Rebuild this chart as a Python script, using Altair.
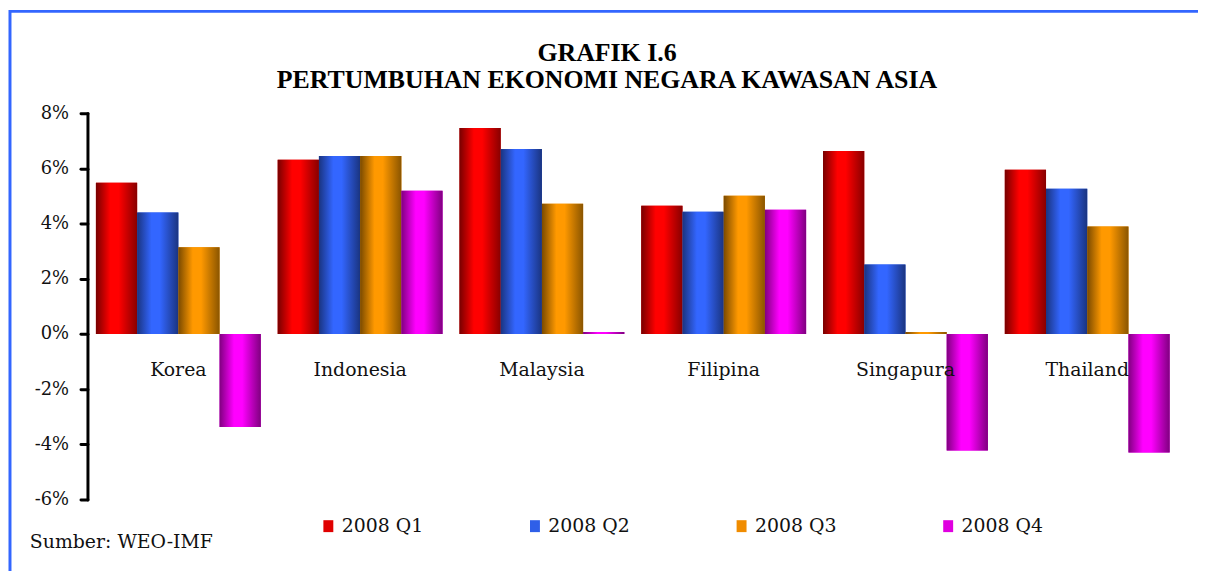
import altair as alt
import pandas as pd

negara = ["Korea", "Indonesia", "Malaysia", "Filipina", "Singapura", "Thailand"]
kuartal = ["2008 Q1", "2008 Q2", "2008 Q3", "2008 Q4"]
q1 = [5.48, 6.31, 7.46, 4.65, 6.63, 5.95]
q2 = [4.40, 6.45, 6.70, 4.43, 2.52, 5.26]
q3 = [3.14, 6.45, 4.72, 5.01, 0.07, 3.89]
q4 = [-3.37, 5.19, 0.07, 4.50, -4.22, -4.29]
y_ticks = [-6, -4, -2, 0, 2, 4, 6, 8]

judul = "GRAFIK I.6\nPERTUMBUHAN EKONOMI NEGARA KAWASAN ASIA"
sumber = "Sumber: WEO-IMF"

rows = []
for q, vals in zip(kuartal, [q1, q2, q3, q4]):
    for n, v in zip(negara, vals):
        rows.append({"negara": n, "kuartal": q, "nilai": v})
df = pd.DataFrame(rows)
df_neg = pd.DataFrame({"negara": negara})

solid = ["#e00000", "#2f5fe8", "#f08c00", "#e000e0"]
grad_cols = [
    ("#780000", "#ff0000", "#880000"),
    ("#1a3480", "#3366ff", "#1a3480"),
    ("#7a4a00", "#ff9900", "#8a5500"),
    ("#800080", "#ff00ff", "#800080"),
]

SERIF = "DejaVu Serif"

x_enc = alt.X("negara:N", sort=negara,
              scale=alt.Scale(paddingInner=0.093, paddingOuter=0.0465), axis=None)
xo_enc = alt.XOffset("kuartal:N", sort=kuartal,
                     scale=alt.Scale(domain=kuartal, paddingInner=0, paddingOuter=0))
y_enc = alt.Y("nilai:Q", scale=alt.Scale(domain=[-6, 8], nice=False, zero=False),
              axis=alt.Axis(values=y_ticks, labelExpr="datum.value + '%'", title=None,
                            grid=False, domainColor="black", domainWidth=3,
                            domainCap="round", tickColor="black", tickWidth=3,
                            tickSize=7, tickCap="round", labelFont=SERIF, labelFontSize=18,
                            labelColor="#111", labelPadding=12))

base = alt.Chart(df).mark_bar().encode(
    x=x_enc, xOffset=xo_enc, y=y_enc,
    color=alt.Color("kuartal:N", sort=kuartal,
                    scale=alt.Scale(domain=kuartal, range=solid),
                    legend=alt.Legend(title=None, orient="none", direction="horizontal",
                                      columns=4, legendX=233, legendY=406,
                                      symbolType="M-1,-1.2H1V1.2H-1Z",
                                      symbolSize=100, symbolStrokeWidth=0,
                                      labelFont=SERIF, labelFontSize=19, labelColor="#111",
                                      labelOffset=4, columnPadding=102, padding=0,
                                      labelLimit=200)),
)

layers = [base]
for q, (c0, c1, c2) in zip(kuartal, grad_cols):
    g = alt.LinearGradient(gradient="linear", x1=0, x2=1, y1=0, y2=0,
                           stops=[alt.GradientStop(offset=0, color=c0),
                                  alt.GradientStop(offset=0.35, color=c1),
                                  alt.GradientStop(offset=0.55, color=c1),
                                  alt.GradientStop(offset=1, color=c2)])
    layers.append(
        alt.Chart(df).transform_filter(alt.datum.kuartal == q)
        .mark_bar(color=g, strokeWidth=0)
        .encode(x=x_enc, xOffset=xo_enc, y=y_enc)
    )

labels = alt.Chart(df_neg).mark_text(font=SERIF, fontSize=19, color="#111",
                                     baseline="middle", dy=36).encode(
    x=x_enc, y=alt.datum(0), text="negara:N")
layers.append(labels)

src = alt.Chart(pd.DataFrame({"t": [sumber]})).mark_text(
    font=SERIF, fontSize=19, color="#111", align="left", baseline="middle").encode(
    x=alt.value(-58), y=alt.value(432), text="t:N")
layers.append(src)

title = alt.Chart(pd.DataFrame({"t": [judul]})).mark_text(
    font="Liberation Serif", fontSize=26, fontWeight="bold", color="black",
    align="center", baseline="middle", lineBreak="\n", lineHeight=28).encode(
    x=alt.value(523), y=alt.value(-61), text="t:N")
layers.append(title)

frame_top = alt.Chart(pd.DataFrame({"a": [0]})).mark_rule(color="#3366ff", strokeWidth=3).encode(
    x=alt.value(-78), x2=alt.value(1130), y=alt.value(-102.5))
frame_left = alt.Chart(pd.DataFrame({"a": [0]})).mark_rule(color="#3366ff", strokeWidth=3).encode(
    x=alt.value(-78), y=alt.value(-104), y2=alt.value(480))
layers += [frame_top, frame_left]

chart = alt.layer(*layers).properties(
    width=1098, height=389,
    autosize=alt.AutoSizeParams(type="none"),
    padding={"left": 80, "top": 104, "right": 20, "bottom": 70},
).configure_view(stroke=None).configure_legend(padding=0)

chart.save("out.html", embed_options={"renderer": "svg", "actions": False})
